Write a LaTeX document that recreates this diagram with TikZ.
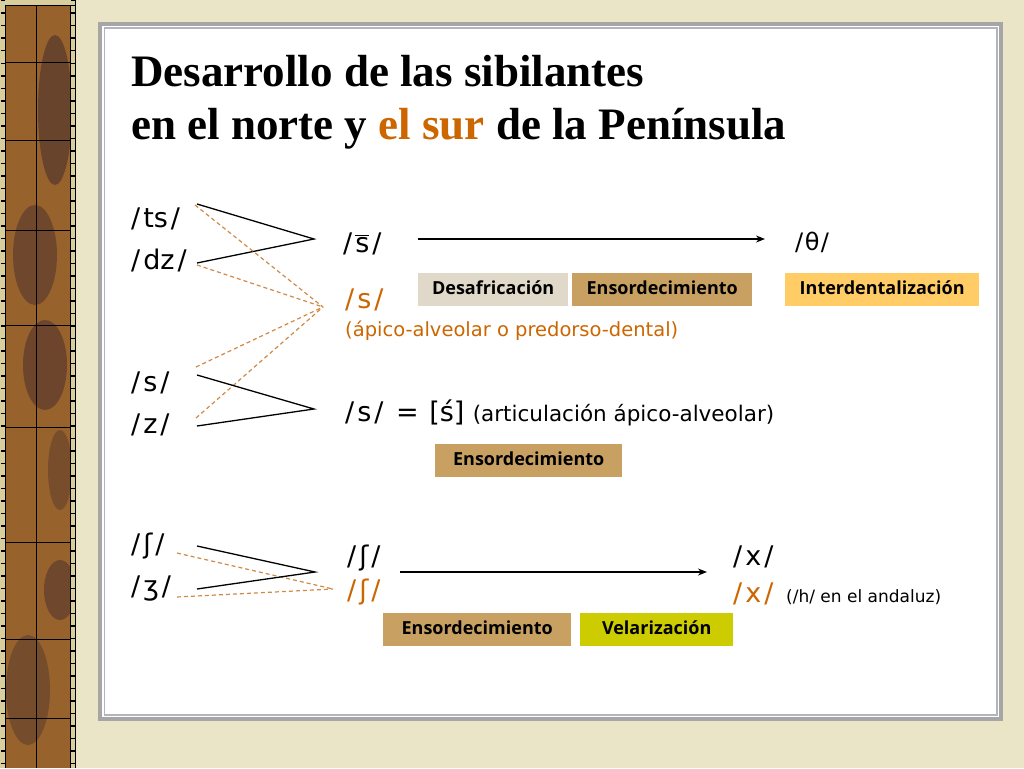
\documentclass[tikz,border=0pt]{standalone}
\usepackage{fontspec}
\setmainfont{Liberation Serif}
\newfontfamily\phf{DejaVu Sans}
\newfontfamily\labf{Open Sans}
\usetikzlibrary{arrows.meta}
\definecolor{bgcream}{HTML}{EBE5C8}
\definecolor{stripbase}{HTML}{98622C}
\definecolor{stripdark}{HTML}{5A3A2C}
\definecolor{stripcream}{HTML}{D9CF9E}
\definecolor{framegray}{HTML}{A6A6A6}
\definecolor{framegray2}{HTML}{B4B4BC}
\definecolor{orng}{HTML}{CC6600}
\definecolor{dashorng}{HTML}{D08A48}
\definecolor{boxA}{HTML}{E0D8C8}
\definecolor{boxB}{HTML}{C8A062}
\definecolor{boxC}{HTML}{FFCC66}
\definecolor{boxD}{HTML}{CCCC00}
\newcommand\phon[1]{/\kern3pt#1\kern3pt/}
\tikzset{
  ph/.style={inner sep=0pt, anchor=base west, font=\phf\fontsize{27}{30}\selectfont},
  phs/.style={inner sep=0pt, anchor=base west, font=\phf\fontsize{19.5}{22}\selectfont},
  lab/.style={inner sep=0pt, minimum height=33pt, text height=13.5pt, text depth=4pt, anchor=north west, font=\labf\bfseries\fontsize{18}{20}\selectfont, text=black},
  solidline/.style={black, line width=1.3pt},
  dashline/.style={dashorng, line width=1.2pt, dash pattern=on 4pt off 3pt},
  arr/.style={black, line width=1.3pt, -{Stealth[length=9pt,width=7pt]}}
}
\begin{document}
\begin{tikzpicture}[x=1pt,y=-1pt]
\useasboundingbox (0,0) rectangle (1024,768);
\fill[bgcream] (0,0) rectangle (1024,768);
% left decorative strip
\fill[stripbase] (0,0) rectangle (76,768);
\fill[stripdark,opacity=0.75] (55,110) ellipse (17 and 75);
\fill[stripdark,opacity=0.65] (35,255) ellipse (22 and 50);
\fill[stripdark,opacity=0.7] (45,365) ellipse (22 and 45);
\fill[stripdark,opacity=0.5] (60,470) ellipse (12 and 40);
\fill[stripdark,opacity=0.65] (60,590) ellipse (16 and 30);
\fill[stripdark,opacity=0.55] (28,690) ellipse (22 and 55);
\fill[stripcream] (0,0) rectangle (5,768);
\fill[stripcream] (71,0) rectangle (75,768);
\fill[stripcream] (0,0) rectangle (76,5);
\draw[black,line width=4pt,dash pattern=on 1.5pt off 11pt] (2.5,0) -- (2.5,768);
\draw[black,line width=4pt,dash pattern=on 1.5pt off 11pt] (73,0) -- (73,768);
\draw[black,line width=1pt] (5.5,5.5) -- (5.5,768) (70.5,5.5) -- (70.5,768) (75.5,0) -- (75.5,768) (5.5,5.5) -- (75.5,5.5);
\draw[black,line width=1pt] (36,5.5) -- (36,768);
\foreach \yy in {62,140,230,325,427,542,639,718}
  \draw[black,line width=1pt] (5.5,\yy) -- (70.5,\yy);
% frame
\fill[framegray] (98,22) rectangle (1003,721);
\fill[white] (102,26) rectangle (999,717);
\fill[framegray2] (103.5,27.5) rectangle (997.5,715.5);
\fill[white] (105,29) rectangle (996,714);
% title
\node[inner sep=0pt, anchor=base west, font=\bfseries\fontsize{45}{54}\selectfont] (t1) at (131,86) {Desarrollo de las sibilantes};
\node[inner sep=0pt, anchor=base west, font=\bfseries\fontsize{45}{54}\selectfont] (t2) at (131,139) {en el norte y \textcolor{orng}{el sur} de la Península};
% left sources
\node[ph] (ts) at (131,227) {\phon{ts}};
\node[ph] (dz) at (131,269) {\phon{dz}};
\node[ph] (s) at (131,391) {\phon{s}};
\node[ph] (z) at (131,433) {\phon{z}};
\node[ph] (sh) at (131,553) {\phon{ʃ}};
\node[ph] (zh) at (131,595) {\phon{ʒ}};
% connector points
\coordinate (tsA) at (197,204);
\coordinate (dzA) at (197,263);
\coordinate (tsB) at (195,205);
\coordinate (dzB) at (197,265);
\coordinate (j1) at (314,239);
\coordinate (j2) at (323,307);
\coordinate (sA) at (197,375);
\coordinate (zA) at (197,426);
\coordinate (sB) at (196,367);
\coordinate (zB) at (196,418);
\coordinate (j3) at (314,409);
\coordinate (shA) at (197,546);
\coordinate (zhA) at (197,589);
\coordinate (shB) at (177,553);
\coordinate (zhB) at (177,597);
\coordinate (j4) at (315,572);
\coordinate (j5) at (333,589);
\draw[solidline] (tsA) -- (j1) -- (dzA);
\draw[dashline] (tsB) -- (j2);
\draw[dashline] (dzB) -- (j2);
\draw[dashline] (sB) -- (j2);
\draw[dashline] (zB) -- (j2);
\draw[solidline] (sA) -- (j3) -- (zA);
\draw[dashline] (shB) -- (j5);
\draw[dashline] (zhB) -- (j5);
\draw[solidline] (shA) -- (j4) -- (zhA);
% north row
\node[ph] (sbar) at (343,252) {\phon{$\overline{\hbox{s}}$}};
\node[inner sep=0pt, anchor=base west, font=\phf\fontsize{24}{26}\selectfont] (th) at (795,250) {/\kern1.5ptθ\kern1.5pt/};
\coordinate (a1s) at (418,239);
\coordinate (a1e) at (765,239);
\draw[arr] (a1s) -- (a1e);
\node[ph, text=orng] (sor) at (345,308) {\phon{s}};
\node[phs, text=orng] (apico) at (345,336) {(ápico-alveolar o predorso-dental)};
\node[lab, fill=boxA, minimum width=150pt] (desaf) at (418,273) {Desafricación};
\node[lab, fill=boxB, minimum width=180pt] (ens1) at (572,273) {Ensordecimiento};
\node[lab, fill=boxC, minimum width=194pt] (inter) at (785,273) {Interdentalización};
% middle row
\node[ph] (s2) at (345,421) {\phon{s} \kern4pt= \kern2pt[ś]};
\node[inner sep=0pt, font=\phf\fontsize{21.5}{24}\selectfont] (art) at (s2.base east) [anchor=base west, xshift=8pt] {(articulación ápico-alveolar)};
\node[lab, fill=boxB, minimum width=187pt] (ens2) at (435,444) {Ensordecimiento};
% south row
\node[ph] (sh2) at (347,565) {\phon{ʃ}};
\node[ph, text=orng] (sh3) at (347,599) {\phon{ʃ}};
\coordinate (a2s) at (400,572);
\coordinate (a2e) at (707,572);
\draw[arr] (a2s) -- (a2e);
\node[ph] (x1) at (733,565) {\phon{x}};
\node[ph, text=orng] (x2) at (733,602) {\phon{x}};
\node[inner sep=0pt, anchor=base west, font=\phf\fontsize{17}{20}\selectfont] (h) at (786,602) {(/h/ en el andaluz)};
\node[lab, fill=boxB, minimum width=188pt] (ens3) at (383,613) {Ensordecimiento};
\node[lab, fill=boxD, minimum width=153pt] (vel) at (580,613) {Velarización};
\end{tikzpicture}
\end{document}
